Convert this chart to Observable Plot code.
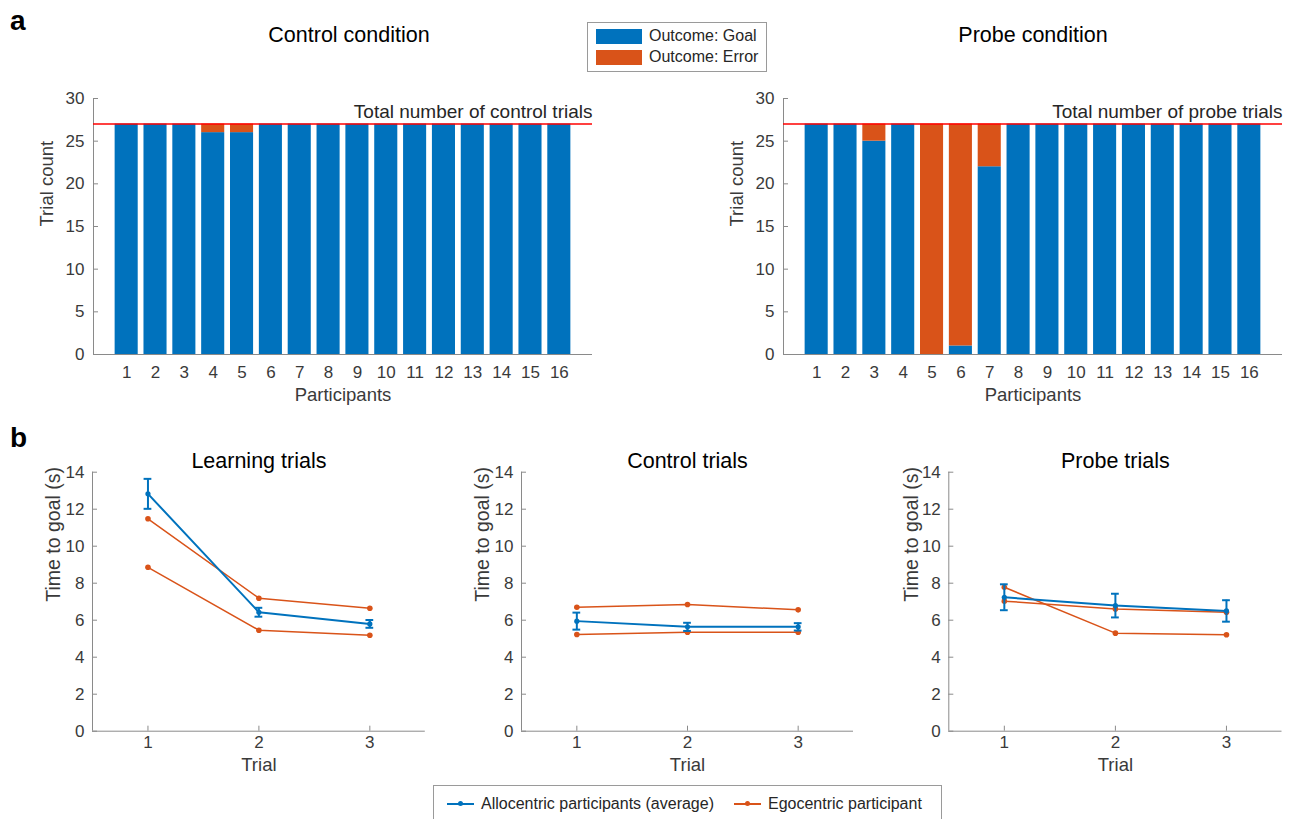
<!DOCTYPE html>
<html><head><meta charset="utf-8">
<script src="https://cdn.jsdelivr.net/npm/d3@7"></script>
<script src="https://cdn.jsdelivr.net/npm/@observablehq/plot@0.6"></script>
<style>
body{margin:0;background:#fff;font-family:"Liberation Sans",Arial,sans-serif;}
#root{position:relative;width:1291px;height:819px;overflow:hidden;background:#fff;}
.panel{position:absolute;}
.plabel{position:absolute;font-weight:bold;font-size:28px;color:#000;line-height:1;}
.legend{position:absolute;border:1px solid #9a9a9a;background:#fff;font-size:16px;color:#262626;box-sizing:border-box;}
.row{position:absolute;left:0;display:flex;align-items:center;white-space:nowrap;}
.sw{display:inline-block;width:46px;height:15px;margin-right:7px;}
.ln{display:inline-block;position:relative;width:27px;height:2px;margin-right:7px;}
.ln i{position:absolute;left:11px;top:-2px;width:5px;height:5px;border-radius:50%;}
</style></head><body><div id="root"></div><script>
// ---------- data ----------
const participants = [1,2,3,4,5,6,7,8,9,10,11,12,13,14,15,16];
const controlGoal  = [27,27,27,26,26,27,27,27,27,27,27,27,27,27,27,27];
const controlError = [0,0,0,1,1,0,0,0,0,0,0,0,0,0,0,0];
const probeGoal    = [27,27,25,27,0,1,22,27,27,27,27,27,27,27,27,27];
const probeError   = [0,0,2,0,27,26,5,0,0,0,0,0,0,0,0,0];
const totalTrials  = 27;
const barTicksY    = [0,5,10,15,20,25,30];

const trials = [1,2,3];
const learningAllo    = [12.83, 6.43, 5.80];
const learningAlloErr = [0.81, 0.24, 0.21];
const learningEgoA    = [11.48, 7.19, 6.65];
const learningEgoB    = [8.86, 5.46, 5.19];
const controlAllo     = [5.95, 5.64, 5.64];
const controlAlloErr  = [0.46, 0.22, 0.20];
const controlEgoA     = [6.70, 6.85, 6.56];
const controlEgoB     = [5.23, 5.35, 5.35];
const probeAllo       = [7.24, 6.79, 6.50];
const probeAlloErr    = [0.70, 0.64, 0.58];
const probeEgoA       = [7.78, 5.30, 5.21];
const probeEgoB       = [7.03, 6.61, 6.43];
const lineTicksY      = [0,2,4,6,8,10,12,14];

// ---------- style ----------
const BLUE = "#0072BD", ORANGE = "#D95319";
const FONT = "Liberation Sans, Arial, sans-serif";
const TXT = "#3a3a3a", AX = "#8a8a8a";
const root = document.getElementById("root");
const intFmt = d3.format("d");

function place(node, left, top) {
  const d = document.createElement("div");
  d.className = "panel"; d.style.left = left + "px"; d.style.top = top + "px";
  d.appendChild(node); root.appendChild(d);
}

function barPanel({goal, error, title, refLabel, left, width, mL, mR, titleDx}) {
  const rows = participants.flatMap((p, i) => [
    {p, outcome: "Goal",  y1: 0,       y2: goal[i]},
    {p, outcome: "Error", y1: goal[i], y2: goal[i] + error[i]}
  ]);
  const xDomain = [-0.15, 17.15];
  const svg = Plot.plot({
    width, height: 410, marginLeft: mL, marginRight: mR, marginTop: 98, marginBottom: 56,
    style: {fontFamily: FONT, background: "transparent", overflow: "visible"},
    x: {domain: xDomain},
    y: {domain: [0, 30]},
    color: {domain: ["Goal", "Error"], range: [BLUE, ORANGE]},
    marks: [
      Plot.axisX({ticks: participants, tickFormat: intFmt, tickSize: -5, tickPadding: 16, stroke: AX, fill: TXT, fontSize: 17, label: null}),
      Plot.axisY({ticks: barTicksY, tickFormat: intFmt, tickSize: -5, tickPadding: 14, stroke: AX, fill: TXT, fontSize: 17, label: null}),
      Plot.rect(rows, {x1: d => d.p - 0.4, x2: d => d.p + 0.4, y1: "y1", y2: "y2", fill: "outcome"}),
      Plot.ruleX([xDomain[0]], {stroke: AX}),
      Plot.ruleY([0], {stroke: AX}),
      Plot.ruleY([totalTrials], {stroke: "#ff0000", strokeWidth: 1.5}),
      Plot.text([totalTrials], {y: d => d, frameAnchor: "right", text: () => refLabel, textAnchor: "end", lineAnchor: "bottom", dy: -6, fontSize: 19, fill: "#262626"}),
      Plot.text([title], {frameAnchor: "top", dy: -63, dx: titleDx, lineAnchor: "middle", fontSize: 21.5, fill: "#000"}),
      Plot.text(["Participants"], {frameAnchor: "bottom", dy: 41, lineAnchor: "middle", fontSize: 18.5, fill: TXT}),
      Plot.text(["Trial count"], {frameAnchor: "left", dx: -46, rotate: -90, lineAnchor: "middle", fontSize: 18.5, fill: TXT})
    ]
  });
  place(svg, left, 0);
}

function linePanel({title, allo, alloErr, egoA, egoB, left, width, mL, mR, labelDx}) {
  const aRows = trials.map((t, i) => ({t, v: allo[i], lo: allo[i] - alloErr[i], hi: allo[i] + alloErr[i]}));
  const eA = trials.map((t, i) => ({t, v: egoA[i]}));
  const eB = trials.map((t, i) => ({t, v: egoB[i]}));
  const xDomain = [0.5, 3.5];
  const svg = Plot.plot({
    width, height: 370, marginLeft: mL, marginRight: mR, marginTop: 61.7, marginBottom: 49.3,
    style: {fontFamily: FONT, background: "transparent", overflow: "visible"},
    x: {domain: xDomain},
    y: {domain: [0, 14]},
    marks: [
      Plot.axisX({ticks: trials, tickFormat: intFmt, tickSize: -5, tickPadding: 10, stroke: AX, fill: TXT, fontSize: 17, label: null}),
      Plot.axisY({ticks: lineTicksY, tickFormat: intFmt, tickSize: -5, tickPadding: 13, stroke: AX, fill: TXT, fontSize: 17, label: null}),
      Plot.ruleX([xDomain[0]], {stroke: AX}),
      Plot.ruleY([0], {stroke: AX}),
      Plot.line(eA, {x: "t", y: "v", stroke: ORANGE, strokeWidth: 1.5}),
      Plot.dot(eA, {x: "t", y: "v", r: 2.8, fill: ORANGE}),
      Plot.line(eB, {x: "t", y: "v", stroke: ORANGE, strokeWidth: 1.5}),
      Plot.dot(eB, {x: "t", y: "v", r: 2.8, fill: ORANGE}),
      Plot.ruleX(aRows, {x: "t", y1: "lo", y2: "hi", stroke: BLUE, strokeWidth: 2}),
      Plot.ruleY(aRows, {y: "hi", x1: d => d.t - 0.035, x2: d => d.t + 0.035, stroke: BLUE, strokeWidth: 2}),
      Plot.ruleY(aRows, {y: "lo", x1: d => d.t - 0.035, x2: d => d.t + 0.035, stroke: BLUE, strokeWidth: 2}),
      Plot.line(aRows, {x: "t", y: "v", stroke: BLUE, strokeWidth: 2}),
      Plot.dot(aRows, {x: "t", y: "v", r: 2.6, fill: BLUE}),
      Plot.text([title], {frameAnchor: "top", dy: -10.7, lineAnchor: "middle", fontSize: 21.5, fill: "#000"}),
      Plot.text(["Trial"], {frameAnchor: "bottom", dy: 34, lineAnchor: "middle", fontSize: 18.5, fill: TXT}),
      Plot.text(["Time to goal (s)"], {frameAnchor: "left", dx: labelDx, rotate: -90, lineAnchor: "middle", fontSize: 19.5, fill: TXT})
    ]
  });
  place(svg, left, 410);
}

barPanel({goal: controlGoal, error: controlError, title: "Control condition", refLabel: "Total number of control trials",
  left: 0, width: 640, mL: 93, mR: 48, titleDx: 6});
barPanel({goal: probeGoal, error: probeError, title: "Probe condition", refLabel: "Total number of probe trials",
  left: 640, width: 651, mL: 143, mR: 9, titleDx: 0});

linePanel({title: "Learning trials", allo: learningAllo, alloErr: learningAlloErr, egoA: learningEgoA, egoB: learningEgoB,
  left: 0, width: 440, mL: 92, mR: 15.2, labelDx: -39});
linePanel({title: "Control trials", allo: controlAllo, alloErr: controlAlloErr, egoA: controlEgoA, egoB: controlEgoB,
  left: 440, width: 430, mL: 81, mR: 17, labelDx: -38.5});
linePanel({title: "Probe trials", allo: probeAllo, alloErr: probeAlloErr, egoA: probeEgoA, egoB: probeEgoB,
  left: 870, width: 421, mL: 78.3, mR: 9.5, labelDx: -37});

// panel letters
for (const [t, x, y] of [["a", 10, 7], ["b", 10, 424]]) {
  const d = document.createElement("div"); d.className = "plabel";
  d.style.left = x + "px"; d.style.top = y + "px"; d.textContent = t; root.appendChild(d);
}

// top legend
const lg1 = document.createElement("div"); lg1.className = "legend";
Object.assign(lg1.style, {left: "587px", top: "22px", width: "180px", height: "50px"});
[["Outcome: Goal", BLUE, 4], ["Outcome: Error", ORANGE, 25]].forEach(([label, c, top]) => {
  const r = document.createElement("div"); r.className = "row";
  r.style.top = top + "px"; r.style.left = "8px";
  r.innerHTML = `<span class="sw" style="background:${c}"></span><span>${label}</span>`;
  lg1.appendChild(r);
});
root.appendChild(lg1);

// bottom legend
const lg2 = document.createElement("div"); lg2.className = "legend";
Object.assign(lg2.style, {left: "433px", top: "785px", width: "509px", height: "40px"});
const r2 = document.createElement("div"); r2.className = "row";
r2.style.top = "9px"; r2.style.left = "13px";
r2.innerHTML = `<span class="ln" style="background:${BLUE}"><i style="background:${BLUE}"></i></span><span>Allocentric participants (average)</span>` +
  `<span class="ln" style="background:${ORANGE};margin-left:20px"><i style="background:${ORANGE}"></i></span><span>Egocentric participant</span>`;
lg2.appendChild(r2);
root.appendChild(lg2);
</script></body></html>
